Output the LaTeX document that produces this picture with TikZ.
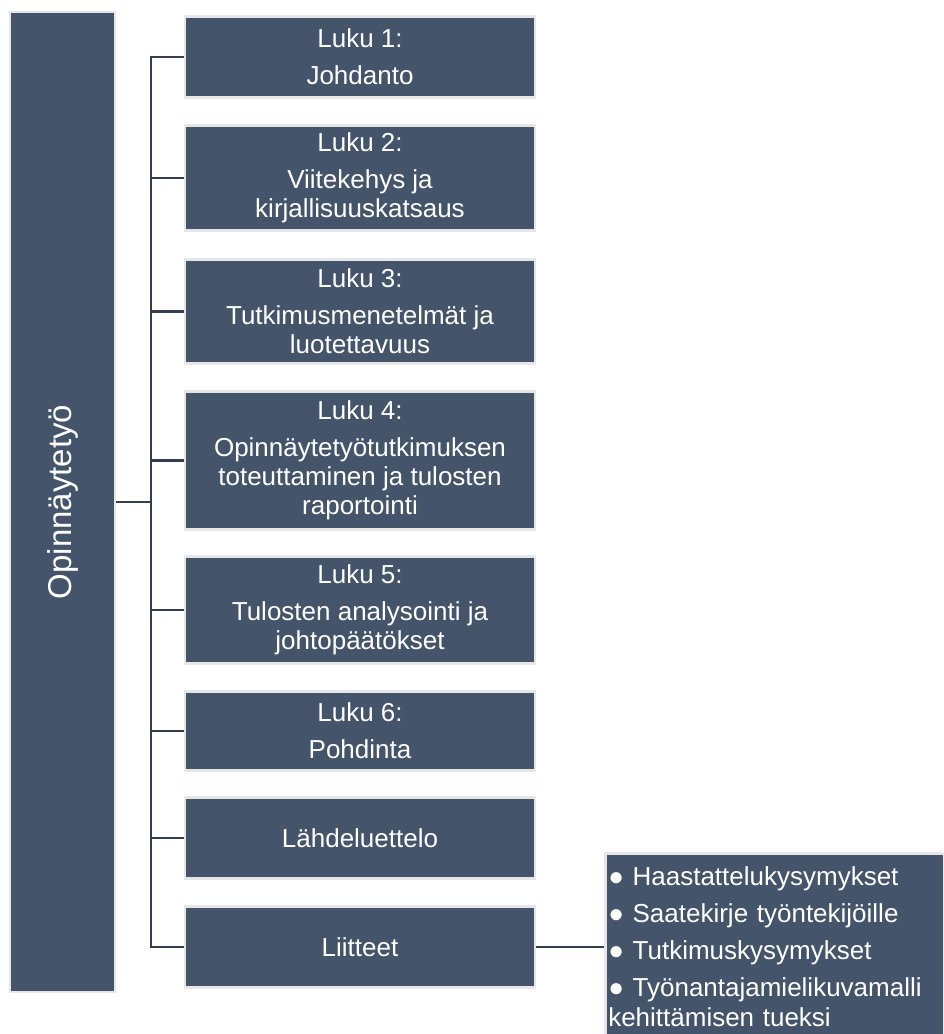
\documentclass[tikz,border=0pt]{standalone}
\usepackage{fontspec}
\setmainfont{Liberation Sans}
\definecolor{boxblue}{HTML}{44546A}
\definecolor{boxrim}{HTML}{E7E6E6}
\definecolor{linkblue}{HTML}{333F50}
\tikzset{
  chapter/.style={fill=boxblue, draw=boxrim, line width=2.5pt, text=white,
    minimum width=350pt, align=center, inner sep=0pt,
    font=\fontsize{26}{29}\selectfont},
  link/.style={draw=linkblue, line width=2.5pt},
}

\begin{document}
\begin{tikzpicture}[x=1pt, y=-1pt]
  \useasboundingbox (0,0) rectangle (943,1034);
  \clip (0,0) rectangle (943,1034);
  \fill[white] (0,0) rectangle (943,1034);

  % Thesis box on the left
  \node[chapter, minimum width=105pt, minimum height=980pt,
    font=\fontsize{33}{38}\selectfont] (main) at (62.5,502) {\rotatebox{90}{Opinnäytetyö}};

  % Chapters
  \node[chapter, minimum height=81pt] (luku1) at (360,57) {Luku 1:\\[8pt]Johdanto};
  \node[chapter, minimum height=105pt] (luku2) at (360,178) {Luku 2:\\[8pt]Viitekehys ja\\kirjallisuuskatsaus};
  \node[chapter, minimum height=104pt] (luku3) at (360,311.5) {Luku 3:\\[8pt]Tutkimusmenetelmät ja\\luotettavuus};
  \node[chapter, minimum height=138pt] (luku4) at (360,460.5) {Luku 4:\\[8pt]Opinnäytetyötutkimuksen\\toteuttaminen ja tulosten\\raportointi};
  \node[chapter, minimum height=107pt] (luku5) at (360,610) {Luku 5:\\[8pt]Tulosten analysointi ja\\johtopäätökset};
  \node[chapter, minimum height=79pt] (luku6) at (360,731) {Luku 6:\\[8pt]Pohdinta};
  \node[chapter, minimum height=81pt] (lahteet) at (360,838) {Lähdeluettelo};
  \node[chapter, minimum height=81pt] (liitteet) at (360,947) {Liitteet};

  % List of appendices, cut by the page edge
  \node[chapter, anchor=north west, align=left, minimum width=0pt,
    text width=370pt, inner xsep=3pt, inner ysep=13pt,
    font=\fontsize{26}{30}\selectfont] (lista) at (604,852)
    {● Haastattelukysymykset\\[7pt]● Saatekirje työntekijöille\\[7pt]● Tutkimuskysymykset\\[7pt]● Työnantajamielikuvamalli\\kehittämisen tueksi};

  % Connectors
  \coordinate (spine) at (151,0);
  \draw[link] (main.east) -- (main.east -| spine);
  \draw[link] (luku1.west) -| (spine |- liitteet.west) -- (liitteet.west);
  \foreach \n in {luku2,luku3,luku4,luku5,luku6,lahteet}
    \draw[link] (\n.west) -- (\n.west -| spine);
  \draw[link] (liitteet.east) -- (liitteet.east -| lista.west);
\end{tikzpicture}
\end{document}
